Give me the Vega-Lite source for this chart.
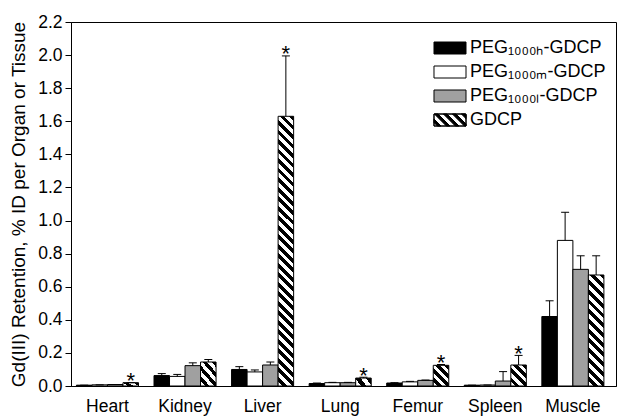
{
  "$schema": "https://vega.github.io/schema/vega-lite/v6.json",
  "width": 545,
  "height": 364,
  "autosize": {"type": "none"},
  "padding": {"left": 71, "top": 22, "right": 8, "bottom": 34},
  "background": "white",
  "config": {
    "font": "Liberation Sans",
    "view": {"stroke": "black", "strokeWidth": 1},
    "axis": {"grid": false, "domainColor": "black", "tickColor": "black", "labelColor": "black", "titleColor": "black", "labelFont": "Liberation Sans", "titleFont": "Liberation Sans", "titleFontWeight": "normal"}
  },
  "data": {
    "values": [
      {"organ": "Heart", "series": "PEG₁₀₀₀ₕ-GDCP", "value": 0.005, "err": 0.005, "star": 0},
      {"organ": "Heart", "series": "PEG₁₀₀₀ₘ-GDCP", "value": 0.007, "err": 0.007, "star": 0},
      {"organ": "Heart", "series": "PEG₁₀₀₀ₗ-GDCP", "value": 0.009, "err": 0.009, "star": 0},
      {"organ": "Heart", "series": "GDCP", "value": 0.02, "err": 0.02, "star": 1},
      {"organ": "Kidney", "series": "PEG₁₀₀₀ₕ-GDCP", "value": 0.063, "err": 0.075, "star": 0},
      {"organ": "Kidney", "series": "PEG₁₀₀₀ₘ-GDCP", "value": 0.058, "err": 0.07, "star": 0},
      {"organ": "Kidney", "series": "PEG₁₀₀₀ₗ-GDCP", "value": 0.123, "err": 0.14, "star": 0},
      {"organ": "Kidney", "series": "GDCP", "value": 0.145, "err": 0.16, "star": 0},
      {"organ": "Liver", "series": "PEG₁₀₀₀ₕ-GDCP", "value": 0.1, "err": 0.117, "star": 0},
      {"organ": "Liver", "series": "PEG₁₀₀₀ₘ-GDCP", "value": 0.085, "err": 0.097, "star": 0},
      {"organ": "Liver", "series": "PEG₁₀₀₀ₗ-GDCP", "value": 0.127, "err": 0.145, "star": 0},
      {"organ": "Liver", "series": "GDCP", "value": 1.63, "err": 1.995, "star": 1},
      {"organ": "Lung", "series": "PEG₁₀₀₀ₕ-GDCP", "value": 0.015, "err": 0.018, "star": 0},
      {"organ": "Lung", "series": "PEG₁₀₀₀ₘ-GDCP", "value": 0.02, "err": 0.022, "star": 0},
      {"organ": "Lung", "series": "PEG₁₀₀₀ₗ-GDCP", "value": 0.02, "err": 0.022, "star": 0},
      {"organ": "Lung", "series": "GDCP", "value": 0.048, "err": 0.053, "star": 1},
      {"organ": "Femur", "series": "PEG₁₀₀₀ₕ-GDCP", "value": 0.018, "err": 0.02, "star": 0},
      {"organ": "Femur", "series": "PEG₁₀₀₀ₘ-GDCP", "value": 0.025, "err": 0.028, "star": 0},
      {"organ": "Femur", "series": "PEG₁₀₀₀ₗ-GDCP", "value": 0.034, "err": 0.036, "star": 0},
      {"organ": "Femur", "series": "GDCP", "value": 0.125, "err": 0.13, "star": 1},
      {"organ": "Spleen", "series": "PEG₁₀₀₀ₕ-GDCP", "value": 0.005, "err": 0.005, "star": 0},
      {"organ": "Spleen", "series": "PEG₁₀₀₀ₘ-GDCP", "value": 0.006, "err": 0.006, "star": 0},
      {"organ": "Spleen", "series": "PEG₁₀₀₀ₗ-GDCP", "value": 0.03, "err": 0.087, "star": 0},
      {"organ": "Spleen", "series": "GDCP", "value": 0.127, "err": 0.185, "star": 1},
      {"organ": "Muscle", "series": "PEG₁₀₀₀ₕ-GDCP", "value": 0.42, "err": 0.515, "star": 0},
      {"organ": "Muscle", "series": "PEG₁₀₀₀ₘ-GDCP", "value": 0.88, "err": 1.05, "star": 0},
      {"organ": "Muscle", "series": "PEG₁₀₀₀ₗ-GDCP", "value": 0.705, "err": 0.787, "star": 0},
      {"organ": "Muscle", "series": "GDCP", "value": 0.671, "err": 0.787, "star": 0}
    ]
  },
  "encoding": {
    "x": {
      "field": "organ", "type": "nominal",
      "sort": ["Heart", "Kidney", "Liver", "Lung", "Femur", "Spleen", "Muscle"],
      "scale": {"paddingInner": 0.2, "paddingOuter": 0.113, "align": 0.31},
      "axis": {"title": null, "labelAngle": 0, "ticks": false, "labelPadding": 11, "labelFontSize": 17.5}
    },
    "xOffset": {
      "field": "series", "type": "nominal",
      "sort": ["PEG₁₀₀₀ₕ-GDCP", "PEG₁₀₀₀ₘ-GDCP", "PEG₁₀₀₀ₗ-GDCP", "GDCP"],
      "scale": {"paddingInner": 0, "paddingOuter": 0}
    },
    "y": {
      "field": "value", "type": "quantitative",
      "title": "Gd(III) Retention, % ID per Organ or Tissue",
      "scale": {"domain": [0, 2.2], "nice": false},
      "axis": {"values": [0, 0.2, 0.4, 0.6, 0.8, 1.0, 1.2, 1.4, 1.6, 1.8, 2.0, 2.2], "format": ".1f", "tickSize": 6, "labelPadding": 3, "labelFontSize": 17.5, "titleFontSize": 19, "titlePadding": 9}
    }
  },
  "layer": [
    {
      "transform": [{"filter": "datum.series !== 'GDCP'"}],
      "mark": {"type": "bar", "stroke": "black", "strokeWidth": 1},
      "encoding": {
        "color": {
          "field": "series", "type": "nominal",
          "scale": {"domain": ["PEG₁₀₀₀ₕ-GDCP", "PEG₁₀₀₀ₘ-GDCP", "PEG₁₀₀₀ₗ-GDCP", "GDCP"], "range": ["black", "white", "#a0a0a0", "black"]},
          "legend": {
            "orient": "none", "legendX": 370, "legendY": 17, "title": null, "padding": 0,
            "labelFontSize": 18, "labelOffset": 11, "rowPadding": 6, "labelColor": "black", "labelLimit": 300,
            "symbolSize": 144, "symbolStrokeColor": "black", "symbolStrokeWidth": 1, "symbolOpacity": 1,
            "encode": {"symbols": {"update": {"stroke": {"value": "black"}, "strokeWidth": {"value": 1}}}}
          }
        }
      }
    },
    {
      "transform": [{"filter": "datum.star === 5"}],
      "mark": {"type": "point", "opacity": 0},
      "encoding": {
        "shape": {
          "field": "series", "type": "nominal",
          "scale": {
            "domain": ["PEG₁₀₀₀ₕ-GDCP", "PEG₁₀₀₀ₘ-GDCP", "PEG₁₀₀₀ₗ-GDCP", "GDCP"],
            "range": [
              "M-2.667,-1H2.667V1H-2.667Z",
              "M-2.667,-1H2.667V1H-2.667Z",
              "M-2.667,-1H2.667V1H-2.667Z",
              "M-2.667,-1H2.667V1H-2.667ZM-2.667,-1V1H2.667V-1ZM-2.667,-0.167L-1.5,1L-2.1,1L-2.667,0.433ZM-2.6,-1L-2,-1L0,1L-0.6,1ZM-1.1,-1L-0.5,-1L1.5,1L0.9,1ZM0.4,-1L1,-1L2.667,0.667L2.667,1L2.4,1ZM1.9,-1L2.5,-1L2.667,-0.833L2.667,-0.233Z"
            ]
          },
          "legend": {
            "orient": "none", "legendX": 370, "legendY": 17, "title": null, "padding": 0,
            "labelFontSize": 18, "labelOffset": 11, "rowPadding": 6, "labelColor": "black", "labelLimit": 300,
            "symbolSize": 144, "symbolStrokeColor": "black", "symbolStrokeWidth": 1, "symbolOpacity": 1,
            "encode": {"symbols": {"update": {"stroke": {"value": "black"}, "strokeWidth": {"value": 1}}}}
          }
        }
      }
    },
    {
      "transform": [{"filter": "datum.series === 'GDCP' && datum.organ === 'Liver'"}],
      "mark": {"type": "bar", "stroke": "black", "strokeWidth": 1, "fill": {"gradient": "linear", "x1": 0, "y1": 1, "x2": 0.06058, "y2": -0.054, "stops": [
        {"offset": 0, "color": "#fff"}, {"offset": 0.0167, "color": "#fff"}, {"offset": 0.0167, "color": "#000"}, {"offset": 0.0333, "color": "#000"},
        {"offset": 0.0333, "color": "#fff"}, {"offset": 0.05, "color": "#fff"}, {"offset": 0.05, "color": "#000"}, {"offset": 0.0667, "color": "#000"},
        {"offset": 0.0667, "color": "#fff"}, {"offset": 0.0833, "color": "#fff"}, {"offset": 0.0833, "color": "#000"}, {"offset": 0.1, "color": "#000"},
        {"offset": 0.1, "color": "#fff"}, {"offset": 0.1167, "color": "#fff"}, {"offset": 0.1167, "color": "#000"}, {"offset": 0.1333, "color": "#000"},
        {"offset": 0.1333, "color": "#fff"}, {"offset": 0.15, "color": "#fff"}, {"offset": 0.15, "color": "#000"}, {"offset": 0.1667, "color": "#000"},
        {"offset": 0.1667, "color": "#fff"}, {"offset": 0.1833, "color": "#fff"}, {"offset": 0.1833, "color": "#000"}, {"offset": 0.2, "color": "#000"},
        {"offset": 0.2, "color": "#fff"}, {"offset": 0.2167, "color": "#fff"}, {"offset": 0.2167, "color": "#000"}, {"offset": 0.2333, "color": "#000"},
        {"offset": 0.2333, "color": "#fff"}, {"offset": 0.25, "color": "#fff"}, {"offset": 0.25, "color": "#000"}, {"offset": 0.2667, "color": "#000"},
        {"offset": 0.2667, "color": "#fff"}, {"offset": 0.2833, "color": "#fff"}, {"offset": 0.2833, "color": "#000"}, {"offset": 0.3, "color": "#000"},
        {"offset": 0.3, "color": "#fff"}, {"offset": 0.3167, "color": "#fff"}, {"offset": 0.3167, "color": "#000"}, {"offset": 0.3333, "color": "#000"},
        {"offset": 0.3333, "color": "#fff"}, {"offset": 0.35, "color": "#fff"}, {"offset": 0.35, "color": "#000"}, {"offset": 0.3667, "color": "#000"},
        {"offset": 0.3667, "color": "#fff"}, {"offset": 0.3833, "color": "#fff"}, {"offset": 0.3833, "color": "#000"}, {"offset": 0.4, "color": "#000"},
        {"offset": 0.4, "color": "#fff"}, {"offset": 0.4167, "color": "#fff"}, {"offset": 0.4167, "color": "#000"}, {"offset": 0.4333, "color": "#000"},
        {"offset": 0.4333, "color": "#fff"}, {"offset": 0.45, "color": "#fff"}, {"offset": 0.45, "color": "#000"}, {"offset": 0.4667, "color": "#000"},
        {"offset": 0.4667, "color": "#fff"}, {"offset": 0.4833, "color": "#fff"}, {"offset": 0.4833, "color": "#000"}, {"offset": 0.5, "color": "#000"},
        {"offset": 0.5, "color": "#fff"}, {"offset": 0.5167, "color": "#fff"}, {"offset": 0.5167, "color": "#000"}, {"offset": 0.5333, "color": "#000"},
        {"offset": 0.5333, "color": "#fff"}, {"offset": 0.55, "color": "#fff"}, {"offset": 0.55, "color": "#000"}, {"offset": 0.5667, "color": "#000"},
        {"offset": 0.5667, "color": "#fff"}, {"offset": 0.5833, "color": "#fff"}, {"offset": 0.5833, "color": "#000"}, {"offset": 0.6, "color": "#000"},
        {"offset": 0.6, "color": "#fff"}, {"offset": 0.6167, "color": "#fff"}, {"offset": 0.6167, "color": "#000"}, {"offset": 0.6333, "color": "#000"},
        {"offset": 0.6333, "color": "#fff"}, {"offset": 0.65, "color": "#fff"}, {"offset": 0.65, "color": "#000"}, {"offset": 0.6667, "color": "#000"},
        {"offset": 0.6667, "color": "#fff"}, {"offset": 0.6833, "color": "#fff"}, {"offset": 0.6833, "color": "#000"}, {"offset": 0.7, "color": "#000"},
        {"offset": 0.7, "color": "#fff"}, {"offset": 0.7167, "color": "#fff"}, {"offset": 0.7167, "color": "#000"}, {"offset": 0.7333, "color": "#000"},
        {"offset": 0.7333, "color": "#fff"}, {"offset": 0.75, "color": "#fff"}, {"offset": 0.75, "color": "#000"}, {"offset": 0.7667, "color": "#000"},
        {"offset": 0.7667, "color": "#fff"}, {"offset": 0.7833, "color": "#fff"}, {"offset": 0.7833, "color": "#000"}, {"offset": 0.8, "color": "#000"},
        {"offset": 0.8, "color": "#fff"}, {"offset": 0.8167, "color": "#fff"}, {"offset": 0.8167, "color": "#000"}, {"offset": 0.8333, "color": "#000"},
        {"offset": 0.8333, "color": "#fff"}, {"offset": 0.85, "color": "#fff"}, {"offset": 0.85, "color": "#000"}, {"offset": 0.8667, "color": "#000"},
        {"offset": 0.8667, "color": "#fff"}, {"offset": 0.8833, "color": "#fff"}, {"offset": 0.8833, "color": "#000"}, {"offset": 0.9, "color": "#000"},
        {"offset": 0.9, "color": "#fff"}, {"offset": 0.9167, "color": "#fff"}, {"offset": 0.9167, "color": "#000"}, {"offset": 0.9333, "color": "#000"},
        {"offset": 0.9333, "color": "#fff"}, {"offset": 0.95, "color": "#fff"}, {"offset": 0.95, "color": "#000"}, {"offset": 0.9667, "color": "#000"},
        {"offset": 0.9667, "color": "#fff"}, {"offset": 0.9833, "color": "#fff"}, {"offset": 0.9833, "color": "#000"}, {"offset": 1, "color": "#000"}
      ]}}
    },
    {
      "transform": [{"filter": "datum.series === 'GDCP' && datum.organ === 'Muscle'"}],
      "mark": {"type": "bar", "stroke": "black", "strokeWidth": 1, "fill": {"gradient": "linear", "x1": 0, "y1": 1, "x2": 0.15625, "y2": -0.11794, "stops": [
        {"offset": 0, "color": "#fff"}, {"offset": 0.0385, "color": "#fff"}, {"offset": 0.0385, "color": "#000"}, {"offset": 0.0769, "color": "#000"},
        {"offset": 0.0769, "color": "#fff"}, {"offset": 0.1154, "color": "#fff"}, {"offset": 0.1154, "color": "#000"}, {"offset": 0.1538, "color": "#000"},
        {"offset": 0.1538, "color": "#fff"}, {"offset": 0.1923, "color": "#fff"}, {"offset": 0.1923, "color": "#000"}, {"offset": 0.2308, "color": "#000"},
        {"offset": 0.2308, "color": "#fff"}, {"offset": 0.2692, "color": "#fff"}, {"offset": 0.2692, "color": "#000"}, {"offset": 0.3077, "color": "#000"},
        {"offset": 0.3077, "color": "#fff"}, {"offset": 0.3462, "color": "#fff"}, {"offset": 0.3462, "color": "#000"}, {"offset": 0.3846, "color": "#000"},
        {"offset": 0.3846, "color": "#fff"}, {"offset": 0.4231, "color": "#fff"}, {"offset": 0.4231, "color": "#000"}, {"offset": 0.4615, "color": "#000"},
        {"offset": 0.4615, "color": "#fff"}, {"offset": 0.5, "color": "#fff"}, {"offset": 0.5, "color": "#000"}, {"offset": 0.5385, "color": "#000"},
        {"offset": 0.5385, "color": "#fff"}, {"offset": 0.5769, "color": "#fff"}, {"offset": 0.5769, "color": "#000"}, {"offset": 0.6154, "color": "#000"},
        {"offset": 0.6154, "color": "#fff"}, {"offset": 0.6538, "color": "#fff"}, {"offset": 0.6538, "color": "#000"}, {"offset": 0.6923, "color": "#000"},
        {"offset": 0.6923, "color": "#fff"}, {"offset": 0.7308, "color": "#fff"}, {"offset": 0.7308, "color": "#000"}, {"offset": 0.7692, "color": "#000"},
        {"offset": 0.7692, "color": "#fff"}, {"offset": 0.8077, "color": "#fff"}, {"offset": 0.8077, "color": "#000"}, {"offset": 0.8462, "color": "#000"},
        {"offset": 0.8462, "color": "#fff"}, {"offset": 0.8846, "color": "#fff"}, {"offset": 0.8846, "color": "#000"}, {"offset": 0.9231, "color": "#000"},
        {"offset": 0.9231, "color": "#fff"}, {"offset": 0.9615, "color": "#fff"}, {"offset": 0.9615, "color": "#000"}, {"offset": 1, "color": "#000"}
      ]}}
    },
    {
      "transform": [{"filter": "datum.series === 'GDCP' && (datum.organ === 'Kidney' || datum.organ === 'Femur' || datum.organ === 'Spleen')"}],
      "mark": {"type": "bar", "stroke": "black", "strokeWidth": 1, "fill": {"gradient": "linear", "x1": 0, "y1": 1, "x2": 0.8305, "y2": -0.1252, "stops": [
        {"offset": 0, "color": "#fff"}, {"offset": 0.125, "color": "#fff"}, {"offset": 0.125, "color": "#000"}, {"offset": 0.25, "color": "#000"},
        {"offset": 0.25, "color": "#fff"}, {"offset": 0.375, "color": "#fff"}, {"offset": 0.375, "color": "#000"}, {"offset": 0.5, "color": "#000"},
        {"offset": 0.5, "color": "#fff"}, {"offset": 0.625, "color": "#fff"}, {"offset": 0.625, "color": "#000"}, {"offset": 0.75, "color": "#000"},
        {"offset": 0.75, "color": "#fff"}, {"offset": 0.875, "color": "#fff"}, {"offset": 0.875, "color": "#000"}, {"offset": 1, "color": "#000"}
      ]}}
    },
    {
      "transform": [{"filter": "datum.series === 'GDCP' && (datum.organ === 'Heart' || datum.organ === 'Lung')"}],
      "mark": {"type": "bar", "stroke": "black", "strokeWidth": 1, "fill": {"gradient": "linear", "x1": 0, "y1": 1, "x2": 1.2063, "y2": 0.533, "stops": [
        {"offset": 0, "color": "#fff"}, {"offset": 0.25, "color": "#fff"}, {"offset": 0.25, "color": "#000"}, {"offset": 0.5, "color": "#000"},
        {"offset": 0.5, "color": "#fff"}, {"offset": 0.75, "color": "#fff"}, {"offset": 0.75, "color": "#000"}, {"offset": 1, "color": "#000"}
      ]}}
    },
    {
      "mark": {"type": "rule", "color": "black", "strokeWidth": 1},
      "encoding": {
        "y": {"field": "value", "type": "quantitative", "title": "Gd(III) Retention, % ID per Organ or Tissue"},
        "y2": {"field": "err"}
      }
    },
    {
      "mark": {"type": "tick", "size": 8, "thickness": 1, "color": "black", "opacity": 1},
      "encoding": {
        "y": {"field": "err", "type": "quantitative", "title": "Gd(III) Retention, % ID per Organ or Tissue"}
      }
    },
    {
      "transform": [{"filter": "datum.star === 1"}],
      "mark": {"type": "text", "text": "*", "fontSize": 22, "font": "Liberation Sans", "baseline": "alphabetic", "dy": 5.5, "color": "black"},
      "encoding": {
        "y": {"field": "err", "type": "quantitative", "title": "Gd(III) Retention, % ID per Organ or Tissue"}
      }
    }
  ]
}
